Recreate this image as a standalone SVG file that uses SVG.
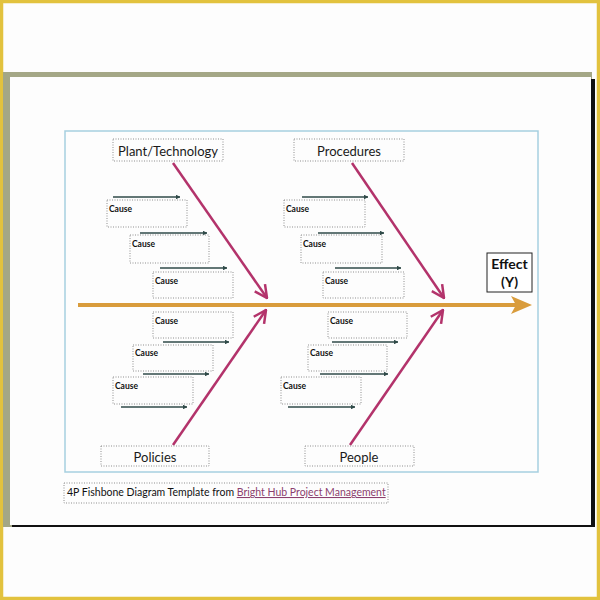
<svg xmlns="http://www.w3.org/2000/svg" width="600" height="600" viewBox="0 0 600 600">
<style>
.lbl{fill:none;stroke:#8f8f8f;stroke-width:1;stroke-dasharray:1 1.5}
.cat{font-family:Lato,"Open Sans","Liberation Sans",sans-serif;font-size:13px;fill:#1a1a1a;text-anchor:middle}
.cause{font-family:Lato,"Open Sans","Liberation Sans",sans-serif;font-size:8.5px;font-weight:bold;fill:#111}
.bone{stroke:#b3336b;stroke-width:2.5;fill:none;marker-end:url(#mh)}
.sub{stroke:#2f4a48;stroke-width:1.6;fill:none;marker-end:url(#sh)}
</style>
<defs>
<marker id="mh" viewBox="0 0 12 12" refX="11" refY="6" markerWidth="6" markerHeight="6" markerUnits="strokeWidth" orient="auto">
<path d="M1,1 L11,6 L1,11" fill="none" stroke="#b3336b" stroke-width="2"/>
</marker>
<marker id="sh" viewBox="0 0 10 10" refX="9" refY="5" markerWidth="3" markerHeight="3" markerUnits="strokeWidth" orient="auto">
<path d="M0,0 L10,5 L0,10 z" fill="#2f4a48"/>
</marker>
</defs>
<rect x="0" y="0" width="600" height="600" fill="#fdfdfd"/>
<rect x="1.5" y="1.5" width="597" height="597" fill="none" stroke="#e2c23e" stroke-width="3.5"/>
<g id="page">
<rect x="3" y="72" width="589" height="455" fill="#a4a786"/>
<rect x="12" y="79" width="583" height="448" fill="#111"/>
<rect x="10" y="77" width="581" height="448" fill="#fdfdfd"/>
<rect x="65" y="131" width="473" height="341" fill="none" stroke="#a6cfe0" stroke-width="1.5"/>
</g>
<g id="connectors">
<line x1="78" y1="305" x2="520" y2="305" stroke="#d99c3c" stroke-width="4"/>
<path d="M532,305 L511,296 L516,305 L511,314 Z" fill="#d99c3c"/>
<line class="bone" x1="173" y1="163" x2="267" y2="298"/>
<line class="bone" x1="352" y1="163" x2="444" y2="298"/>
<line class="bone" x1="173" y1="445" x2="266" y2="310"/>
<line class="bone" x1="350" y1="445" x2="443" y2="310"/>
<line class="sub" x1="113" y1="197" x2="180" y2="197"/>
<line class="sub" x1="140" y1="233" x2="207" y2="233"/>
<line class="sub" x1="160" y1="268" x2="227" y2="268"/>
<line class="sub" x1="302" y1="197" x2="368" y2="197"/>
<line class="sub" x1="318" y1="233" x2="384" y2="233"/>
<line class="sub" x1="335" y1="268" x2="401" y2="268"/>
<line class="sub" x1="163" y1="342" x2="229" y2="342"/>
<line class="sub" x1="143" y1="374" x2="209" y2="374"/>
<line class="sub" x1="121" y1="407" x2="187" y2="407"/>
<line class="sub" x1="332" y1="342" x2="398" y2="342"/>
<line class="sub" x1="320" y1="374" x2="388" y2="374"/>
<line class="sub" x1="288" y1="407" x2="355" y2="407"/>
</g>
<g id="effect">
<rect x="487" y="253" width="45" height="39" fill="#fff" stroke="#222" stroke-width="1"/>
<text x="509.5" y="269" font-family="Lato,'Open Sans','Liberation Sans',sans-serif" font-size="14" font-weight="bold" text-anchor="middle" fill="#111">Effect</text>
<text x="509.5" y="287" font-family="Lato,'Open Sans','Liberation Sans',sans-serif" font-size="14" font-weight="bold" text-anchor="middle" fill="#111">(Y)</text>
</g>
<g id="plant"><rect class="lbl" x="113" y="139" width="110" height="22"/><text class="cat" x="168" y="155.5">Plant/Technology</text></g>
<g id="procedures"><rect class="lbl" x="294" y="139" width="110" height="22"/><text class="cat" x="349" y="155.5">Procedures</text></g>
<g id="policies"><rect class="lbl" x="101" y="446" width="108" height="20"/><text class="cat" x="155" y="461.5">Policies</text></g>
<g id="people"><rect class="lbl" x="305" y="446" width="109" height="20"/><text class="cat" x="359" y="461.5">People</text></g>
<g id="c1"><rect class="lbl" x="107" y="200" width="80" height="27"/><text class="cause" x="109" y="212">Cause</text></g>
<g id="c2"><rect class="lbl" x="130" y="235" width="79" height="28"/><text class="cause" x="132" y="247">Cause</text></g>
<g id="c3"><rect class="lbl" x="153" y="272" width="80" height="26"/><text class="cause" x="155" y="284">Cause</text></g>
<g id="c4"><rect class="lbl" x="284" y="200" width="81" height="27"/><text class="cause" x="286" y="212">Cause</text></g>
<g id="c5"><rect class="lbl" x="301" y="235" width="81" height="28"/><text class="cause" x="303" y="247">Cause</text></g>
<g id="c6"><rect class="lbl" x="323" y="272" width="81" height="26"/><text class="cause" x="325" y="284">Cause</text></g>
<g id="c7"><rect class="lbl" x="153" y="312" width="80" height="26"/><text class="cause" x="155" y="324">Cause</text></g>
<g id="c8"><rect class="lbl" x="133" y="345" width="80" height="26"/><text class="cause" x="135" y="356">Cause</text></g>
<g id="c9"><rect class="lbl" x="113" y="377" width="80" height="27"/><text class="cause" x="115" y="389">Cause</text></g>
<g id="c10"><rect class="lbl" x="328" y="312" width="79" height="26"/><text class="cause" x="330" y="324">Cause</text></g>
<g id="c11"><rect class="lbl" x="308" y="345" width="79" height="26"/><text class="cause" x="310" y="356">Cause</text></g>
<g id="c12"><rect class="lbl" x="281" y="377" width="80" height="27"/><text class="cause" x="283" y="389">Cause</text></g>
<g id="footer">
<rect class="lbl" x="64" y="483" width="324" height="20"/>
<text x="67" y="496" font-family="Lato,'Open Sans','Liberation Sans',sans-serif" font-size="10.5" fill="#111">4P Fishbone Diagram Template from <tspan fill="#8c3f6e" text-decoration="underline">Bright Hub Project Management</tspan></text>
</g>
</svg>
